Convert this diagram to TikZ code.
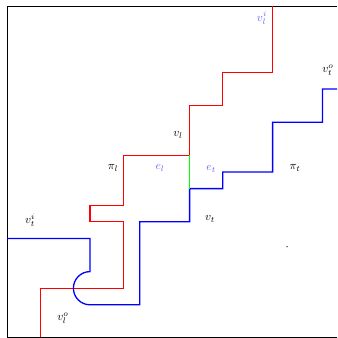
\documentclass[tikz,border=0pt]{standalone}
\begin{document}
\begin{tikzpicture}[x=16.6pt,y=-16.6pt,
  lab/.style={inner sep=0pt,scale=1.17},
  blab/.style={lab,text=blue!60},
  redp/.style={draw=red,line width=1.3pt},
  bluep/.style={draw=blue,line width=1.3pt},
  greenp/.style={draw=green,line width=1.3pt},
  frame/.style={draw=black,line width=1pt}]
\useasboundingbox (-0.4217,-0.3614) rectangle (19.88,20.0);
% frame
\draw[frame] (0,19.95) -- (0,0) -- (19.88,0);
\draw[frame] (0,19.95) -- (19.88,19.95);
% red path pi_l
\draw[redp] (16,0) -- (16,4) -- (13,4) -- (13,6) -- (11,6) -- (11,9) -- (7,9) -- (7,12) -- (5,12) -- (5,13) -- (7,13) -- (7,17) -- (2,17) -- (2,19.95);
% blue path pi_t
\draw[bluep] (19.88,5) -- (19,5) -- (19,7) -- (16,7) -- (16,10) -- (13,10) -- (13,11) -- (11,11) -- (11,13) -- (8,13) -- (8,18) -- (5,18)
  arc[start angle=270,end angle=90,radius=16.6pt] -- (5,14) -- (0,14);
% green shared edge
\draw[greenp] (11,9) -- (11,11);
% labels
\node[blab] (vli) at (15.36,0.72) {$v_l^i$};
\node[lab] (vto) at (19.34,3.86) {$v_t^o$};
\node[lab] (vl) at (10.3,7.77) {$v_l$};
\node[lab] (pil) at (6.39,9.76) {$\pi_l$};
\node[blab] (el) at (9.22,9.76) {$e_l$};
\node[blab] (et) at (12.3,9.8) {$e_t$};
\node[lab] (pit) at (17.35,9.76) {$\pi_t$};
\node[lab] (vt) at (12.23,12.83) {$v_t$};
\node[lab] (vti) at (1.39,12.9) {$v_t^i$};
\node[lab] (vlo) at (3.37,18.8) {$v_l^o$};
\fill (16.87,14.5) circle[radius=0.7pt];
\end{tikzpicture}
\end{document}
